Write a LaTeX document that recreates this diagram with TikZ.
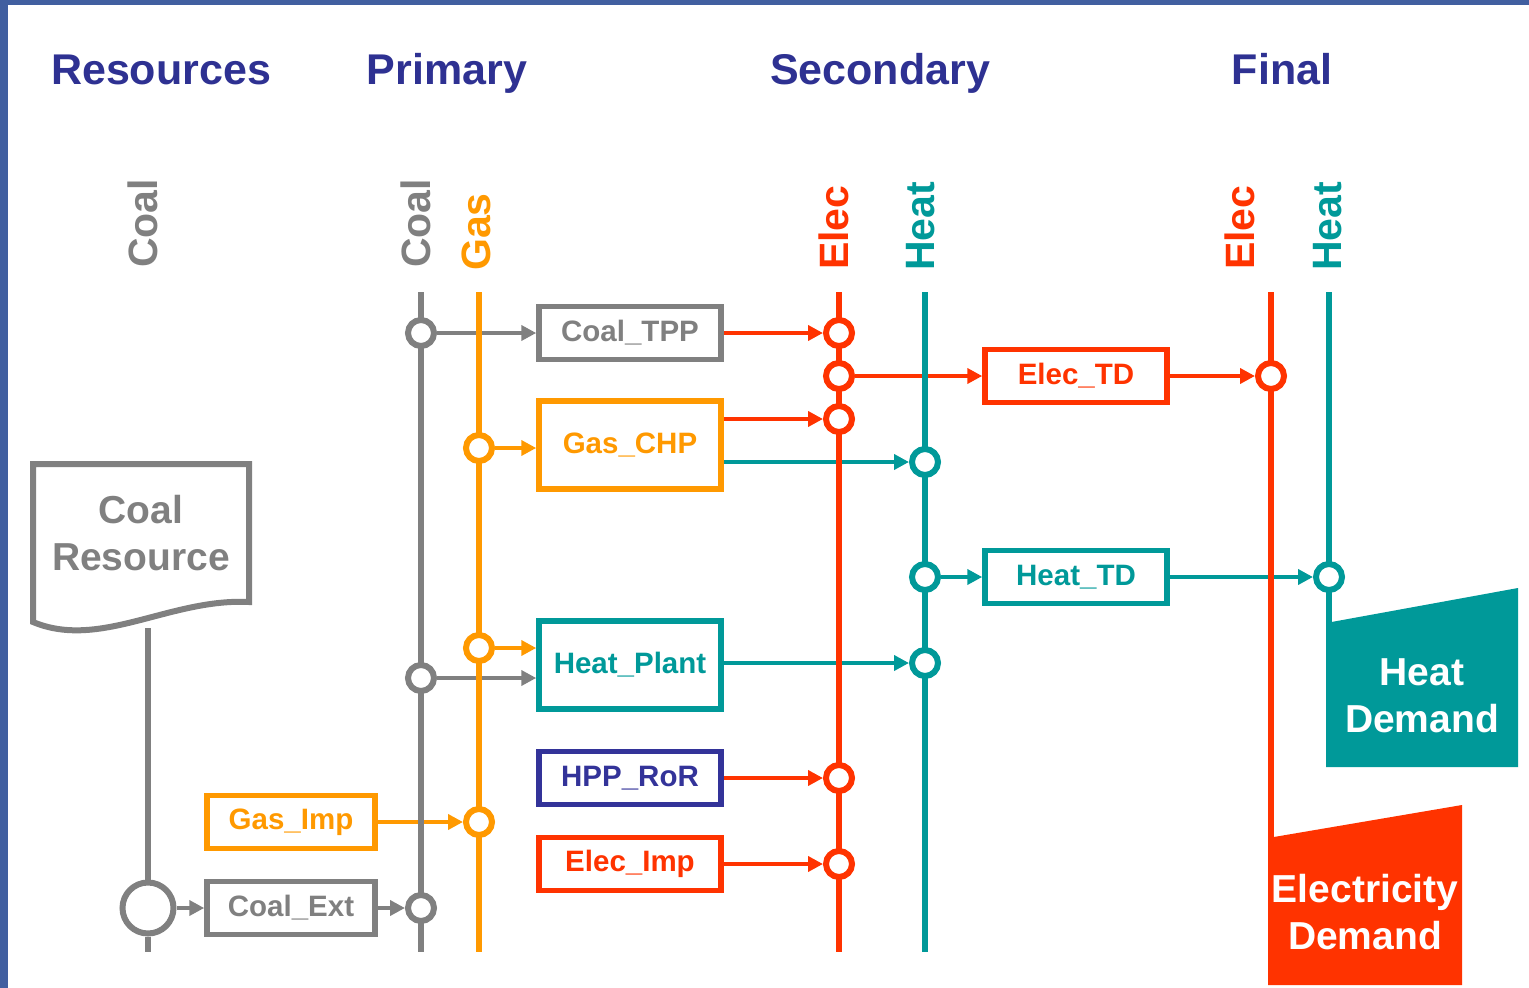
\documentclass[tikz,border=0pt]{standalone}
\usepackage{fontspec}
\setmainfont{Liberation Sans}
\usetikzlibrary{positioning, arrows.meta, backgrounds}
\definecolor{hdrblue}{RGB}{46,49,146}
\definecolor{coalgray}{RGB}{128,128,128}
\definecolor{gasorange}{RGB}{255,153,0}
\definecolor{elecred}{RGB}{255,51,0}
\definecolor{heatteal}{RGB}{0,153,153}
\definecolor{hydroblue}{RGB}{51,51,153}
\definecolor{framebl}{RGB}{65,95,160}
\tikzset{
    procbox/.style={draw=#1, text=#1, line width=5.5pt, minimum width=182pt, minimum height=53pt, inner sep=0pt, font=\fontsize{29.5}{32}\selectfont\bfseries},
    junc/.style={circle, draw=#1, fill=white, line width=6pt, minimum size=26pt, inner sep=0pt},
    flowarrow/.style={draw=#1, line width=4.8pt, -{Triangle[length=15pt,width=15pt]}},
    busline/.style={draw=#1, line width=6.5pt},
    buslabel/.style={text=#1, rotate=90, anchor=base west, inner sep=0pt, font=\fontsize{41}{44}\selectfont\bfseries},
    header/.style={text=hdrblue, anchor=base, inner sep=0pt, font=\fontsize{43}{48}\selectfont\bfseries},
    demtext/.style={text=#1, align=center, inner sep=0pt, font=\fontsize{39}{47}\selectfont\bfseries}
}

\begin{document}
\begin{tikzpicture}[x=1pt, y=-1pt]
    \useasboundingbox (0,0) rectangle (1529,988);
    \fill[framebl] (0,0) rectangle (1529,5);
    \fill[framebl] (0,0) rectangle (8,988);

    % column headers
    \node[header] (hres) at (161,84) {Resources};
    \node[header] (hprim) at (447,84) {Primary};
    \node[header] (hsec) at (880,84) {Secondary};
    \node[header] (hfin) at (1282,84) {Final};

    % commodity labels
    \node[buslabel=coalgray] (lcoalR) at (157,268) {Coal};
    \node[buslabel=coalgray] (lcoalP) at (430,268) {Coal};
    \node[buslabel=gasorange] (lgasP) at (490,271) {Gas};
    \node[buslabel=elecred] (lelecS) at (848,270) {Elec};
    \node[buslabel=heatteal] (lheatS) at (934,271) {Heat};
    \node[buslabel=elecred] (lelecF) at (1254,270) {Elec};
    \node[buslabel=heatteal] (lheatF) at (1341,271) {Heat};

    % processes
    \node[procbox=coalgray] (tpp) at (630,333) {Coal\_TPP};
    \node[procbox=gasorange, minimum height=88pt] (chp) at (630,445) {Gas\_CHP};
    \node[procbox=heatteal, minimum height=88pt] (hplant) at (630,665) {Heat\_Plant};
    \node[procbox=hydroblue] (hpp) at (630,778) {HPP\_RoR};
    \node[procbox=elecred] (eimp) at (630,864) {Elec\_Imp};
    \node[procbox=elecred] (etd) at (1076,376) {Elec\_TD};
    \node[procbox=heatteal] (htd) at (1076,577) {Heat\_TD};
    \node[procbox=gasorange, minimum width=168pt] (gimp) at (291,822) {Gas\_Imp};
    \node[procbox=coalgray, minimum width=168pt] (cext) at (291,908) {Coal\_Ext};

    % resource and demands
    \draw[coalgray, line width=6pt] (33,622) -- (33,464) -- (249,464) -- (249,602)
        .. controls (170,598) and (100,650) .. cycle;
    \node[demtext=coalgray] (cres) at (141,533) {Coal\\Resource};
    \coordinate (cres-foot) at (148,628);
    \fill[heatteal] (1326,623) -- (1518,588) -- (1518,767) -- (1326,767) -- cycle;
    \node[demtext=white] (hdem) at (1422,696) {Heat\\Demand};
    \fill[elecred] (1268,838) -- (1462,805) -- (1462,985) -- (1268,985) -- cycle;
    \node[demtext=white] (edem) at (1365,912) {Electricity\\Demand};

    % junctions
    \node[junc=coalgray, minimum size=51pt] (jres) at (148,908) {};
    \node[junc=coalgray] (jc1) at (421,333) {};
    \node[junc=coalgray] (jc2) at (421,678) {};
    \node[junc=coalgray] (jc3) at (421,908) {};
    \node[junc=gasorange] (jg1) at (479,448) {};
    \node[junc=gasorange] (jg2) at (479,648) {};
    \node[junc=gasorange] (jg3) at (479,822) {};
    \node[junc=elecred] (je1) at (839,333) {};
    \node[junc=elecred] (je2) at (839,376) {};
    \node[junc=elecred] (je3) at (839,419) {};
    \node[junc=elecred] (je4) at (839,778) {};
    \node[junc=elecred] (je5) at (839,864) {};
    \node[junc=heatteal] (jh1) at (925,462) {};
    \node[junc=heatteal] (jh2) at (925,577) {};
    \node[junc=heatteal] (jh3) at (925,663) {};
    \node[junc=elecred] (jfe) at (1271,376) {};
    \node[junc=heatteal] (jfh) at (1329,577) {};

    \begin{scope}[on background layer]
        % flows
        \draw[flowarrow=coalgray] (jres) -- (cext);
        \draw[flowarrow=coalgray] (cext) -- (jc3);
        \draw[flowarrow=gasorange] (gimp) -- (jg3);
        \draw[flowarrow=coalgray] (jc1) -- (tpp);
        \draw[flowarrow=gasorange] (jg1) -- (chp.west |- jg1);
        \draw[flowarrow=gasorange] (jg2) -- (hplant.west |- jg2);
        \draw[flowarrow=coalgray] (jc2) -- (hplant.west |- jc2);
        \draw[flowarrow=elecred] (tpp) -- (je1);
        \draw[flowarrow=elecred] (chp.east |- je3) -- (je3);
        \draw[flowarrow=heatteal] (chp.east |- jh1) -- (jh1);
        \draw[flowarrow=elecred] (je2) -- (etd);
        \draw[flowarrow=elecred] (etd) -- (jfe);
        \draw[flowarrow=heatteal] (jh2) -- (htd);
        \draw[flowarrow=heatteal] (htd) -- (jfh);
        \draw[flowarrow=heatteal] (hplant.east |- jh3) -- (jh3);
        \draw[flowarrow=elecred] (hpp) -- (je4);
        \draw[flowarrow=elecred] (eimp) -- (je5);

        % commodity buses
        \foreach \n/\x/\c/\b in {coalP/421/coalgray/952, gasP/479/gasorange/952,
                elecS/839/elecred/952, heatS/925/heatteal/952,
                elecF/1271/elecred/840, heatF/1329/heatteal/624} {
            \coordinate (\n-top) at (\x,292);
            \coordinate (\n-bot) at (\x,\b);
            \draw[busline=\c] (\n-top) -- (\n-bot);
        }
        \coordinate (res-bot) at (148,952);
        \draw[busline=coalgray] (cres-foot) -- (jres) -- (res-bot);
    \end{scope}
\end{tikzpicture}
\end{document}
